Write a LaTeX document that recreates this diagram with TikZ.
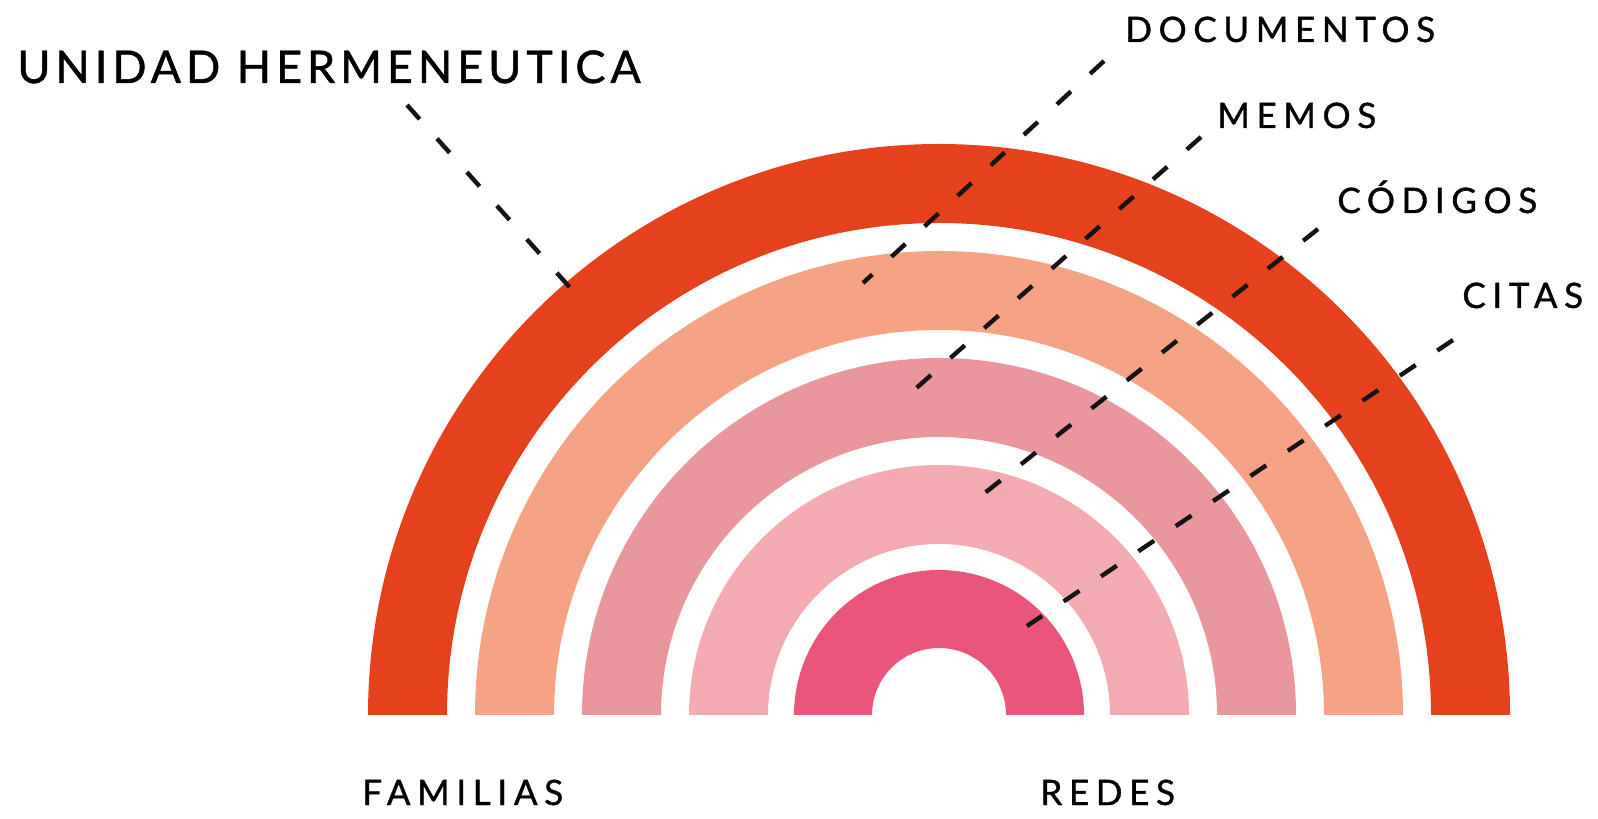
\documentclass[tikz,border=0pt]{standalone}
\usepackage{fontspec}
\setmainfont{Lato}[FakeBold=1]
\definecolor{ringred}{HTML}{E5411D}
\definecolor{ringsalmon}{HTML}{F6A285}
\definecolor{ringdusty}{HTML}{E9969C}
\definecolor{ringlight}{HTML}{F4AAB1}
\definecolor{ringhot}{HTML}{E9557B}
\definecolor{pointerink}{HTML}{141414}

\begin{document}
\begin{tikzpicture}[
              x=0.5pt, y=0.5pt,
              pointer/.style={line width=2.2pt,pointerink,dash pattern=on 9.5pt off 13pt},
              ringname/.style={anchor=base west,inner sep=0pt,
                font=\fontsize{17.5}{20}\selectfont\addfontfeatures{LetterSpace=19}},
              bigname/.style={ringname,
                font=\fontsize{22.5}{25}\selectfont\addfontfeatures{LetterSpace=11}}
            ]
            \useasboundingbox (0,0) rectangle (1598,818);
            \coordinate (c) at (939,103);

            % Rings, outside in (outer radius, inner radius)
            \fill[ringred]    (c) ++(571,0) arc[start angle=0,end angle=180,radius=571]
                              -- ++(79,0) arc[start angle=180,end angle=0,radius=492] -- cycle;
            \fill[ringsalmon] (c) ++(464,0) arc[start angle=0,end angle=180,radius=464]
                              -- ++(79,0) arc[start angle=180,end angle=0,radius=385] -- cycle;
            \fill[ringdusty]  (c) ++(357,0) arc[start angle=0,end angle=180,radius=357]
                              -- ++(79,0) arc[start angle=180,end angle=0,radius=278] -- cycle;
            \fill[ringlight]  (c) ++(250,0) arc[start angle=0,end angle=180,radius=250]
                              -- ++(79,0) arc[start angle=180,end angle=0,radius=171] -- cycle;
            \fill[ringhot]    (c) ++(145,0) arc[start angle=0,end angle=180,radius=145]
                              -- ++(78,0) arc[start angle=180,end angle=0,radius=67] -- cycle;

            % Names
            \node[bigname] (unidad) at (17,735) {UNIDAD HERMENEUTICA};
            \node[ringname] (documentos) at (1125,776) {DOCUMENTOS};
            \node[ringname] (memos) at (1217,690) {MEMOS};
            \node[ringname] (codigos) at (1337,605) {CÓDIGOS};
            \node[ringname] (citas) at (1462,510) {CITAS};
            \node[ringname] (familias) at (362,13) {FAMILIAS};
            \node[ringname] (redes) at (1040,13) {REDES};

            % Pointers
            \coordinate (unidadA) at (407,713);   \coordinate (unidadB) at (573,527);
            \coordinate (documentosA) at (1104,757); \coordinate (documentosB) at (863,535);
            \coordinate (memosA) at (1201,681);   \coordinate (memosB) at (913,427);
            \coordinate (codigosA) at (1318,589); \coordinate (codigosB) at (981,322);
            \coordinate (citasA) at (1453,478);   \coordinate (citasB) at (1027,192);

            \draw[pointer] (unidadA) -- (unidadB);
            \draw[pointer] (documentosA) -- (documentosB);
            \draw[pointer] (memosA) -- (memosB);
            \draw[pointer] (codigosA) -- (codigosB);
            \draw[pointer] (citasA) -- (citasB);

            \end{tikzpicture}
\end{document}
